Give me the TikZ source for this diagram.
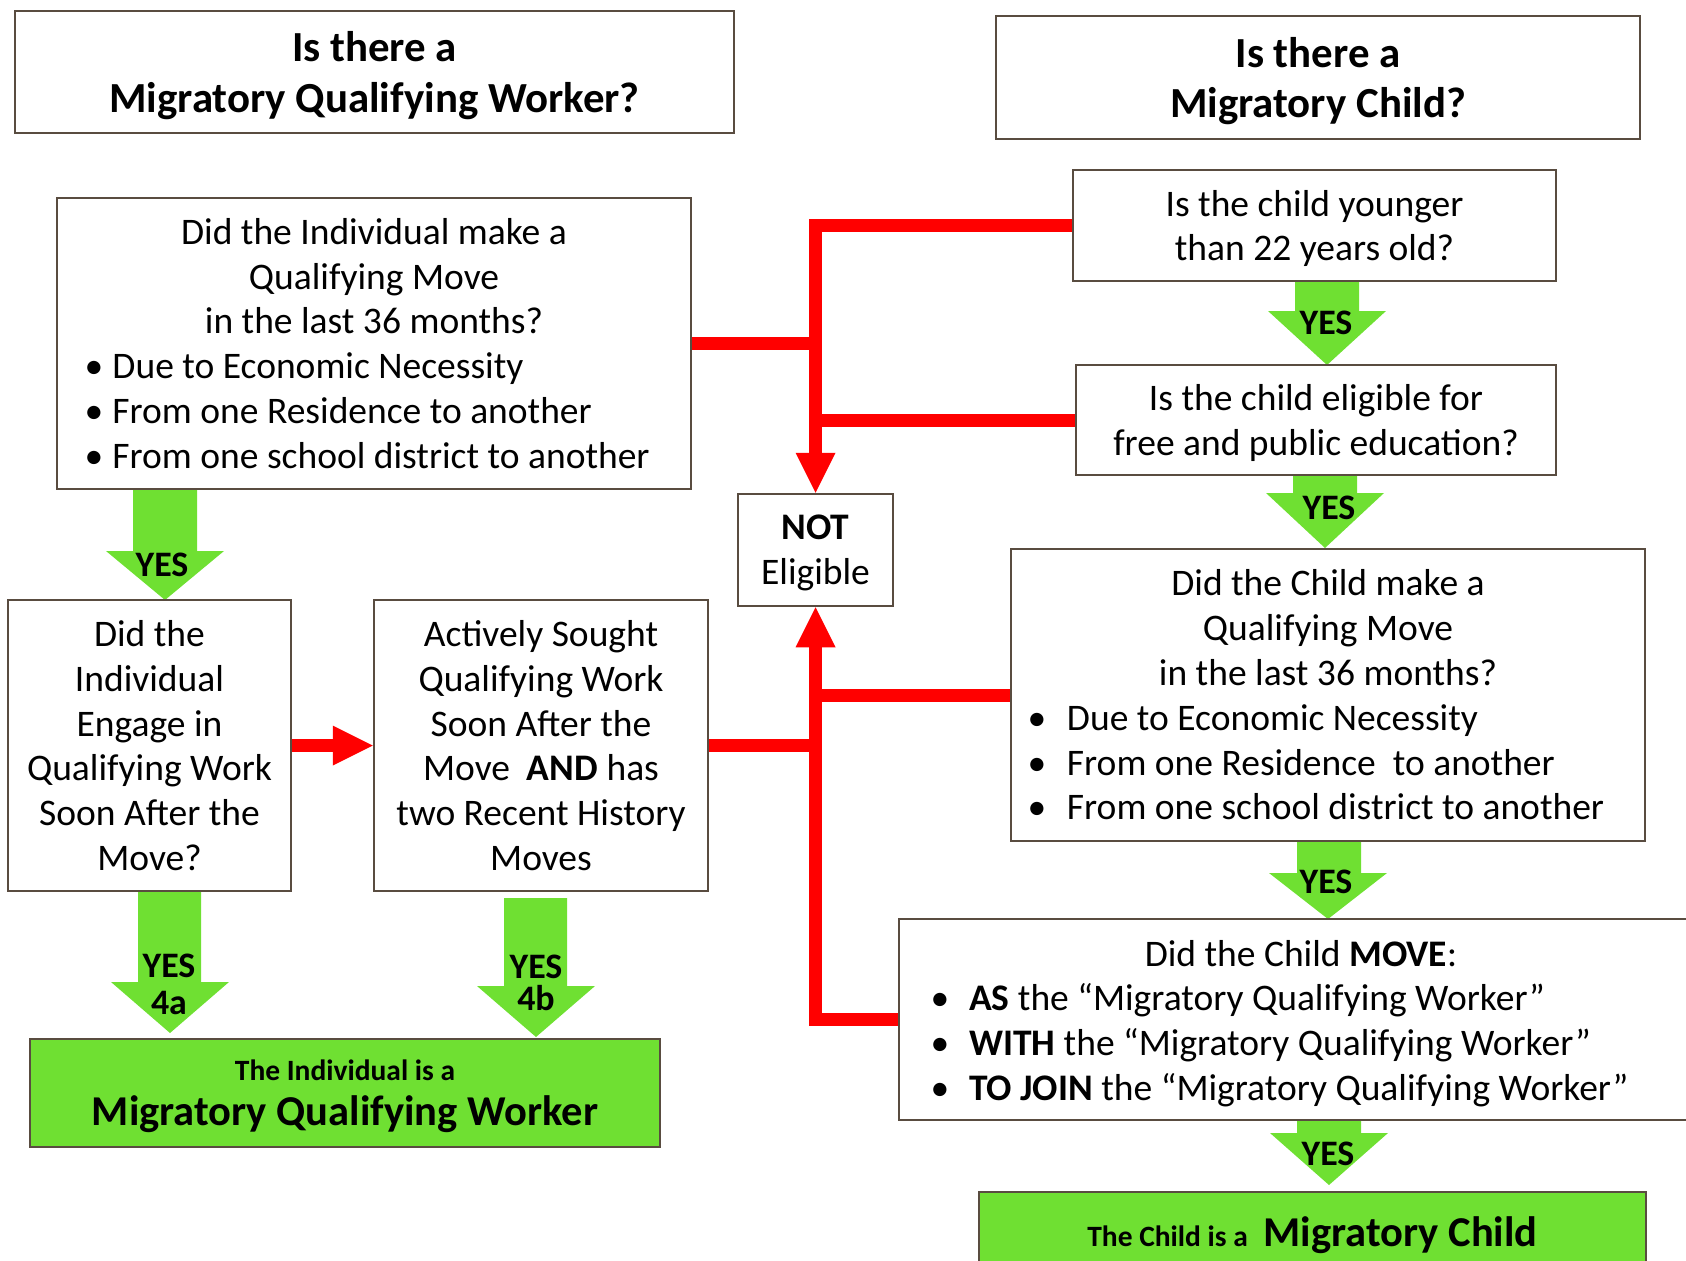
\documentclass[tikz,border=0pt]{standalone}
\usepackage{fontspec}
\setmainfont{Carlito}
\usetikzlibrary{arrows.meta}

\definecolor{boxline}{RGB}{89,76,64}
\definecolor{yesgreen}{RGB}{111,224,50}

\tikzset{
	box/.style={draw=boxline, line width=0.05cm, inner sep=0pt, align=center, text depth=0pt,
		font=\fontsize{21.35}{25.51}\selectfont},
	titlebox/.style={box, font=\fontsize{24.4}{28.63}\selectfont\bfseries},
	listbox/.style={box, align=left, text depth=},
	resultbox/.style={box, fill=yesgreen},
	nored/.style={draw=red, line width=0.26cm},
	notip/.style={-{Triangle[width=0.8cm,length=0.8cm,line width=0pt]}},
	yeslabel/.style={inner sep=0pt, align=center, font=\fontsize{20.41}{20.98}\selectfont\bfseries},
}

\begin{document}
\begin{tikzpicture}
	\useasboundingbox (0,0) rectangle (33.72,-25.2);

	% green YES arrows
	\fill[yesgreen] (2.66,-9.78) -- (3.94,-9.78) -- (3.94,-11.02) -- (4.48,-11.02) -- (3.30,-12.00) -- (2.12,-11.02) -- (2.66,-11.02) -- cycle;
	\fill[yesgreen] (25.90,-5.62) -- (27.18,-5.62) -- (27.18,-6.22) -- (27.72,-6.22) -- (26.54,-7.30) -- (25.36,-6.22) -- (25.90,-6.22) -- cycle;
	\fill[yesgreen] (25.86,-9.50) -- (27.14,-9.50) -- (27.14,-9.86) -- (27.68,-9.86) -- (26.50,-10.96) -- (25.32,-9.86) -- (25.86,-9.86) -- cycle;
	\fill[yesgreen] (25.94,-16.82) -- (27.22,-16.82) -- (27.22,-17.46) -- (27.74,-17.46) -- (26.56,-18.38) -- (25.38,-17.46) -- (25.94,-17.46) -- cycle;
	\fill[yesgreen] (25.94,-22.40) -- (27.22,-22.40) -- (27.22,-22.66) -- (27.76,-22.66) -- (26.58,-23.70) -- (25.40,-22.66) -- (25.94,-22.66) -- cycle;
	\fill[yesgreen] (2.76,-17.82) -- (4.02,-17.82) -- (4.02,-19.64) -- (4.58,-19.64) -- (3.40,-20.66) -- (2.22,-19.64) -- (2.76,-19.64) -- cycle;
	\fill[yesgreen] (10.08,-17.96) -- (11.34,-17.96) -- (11.34,-19.72) -- (11.90,-19.72) -- (10.72,-20.74) -- (9.54,-19.72) -- (10.08,-19.72) -- cycle;

	% titles
	\node[titlebox, minimum width=14.38cm, minimum height=2.44cm] (qworker) at (7.49,-1.44) {Is there a\\Migratory Qualifying Worker?};
	\node[titlebox, minimum width=12.88cm, minimum height=2.46cm] (qchild) at (26.36,-1.55) {Is there a\\Migratory Child?};

	% worker side
	\node[listbox, text width=12.68cm, minimum height=5.82cm] (indmove) at (7.48,-6.87) {%
		\spaceskip=0pt \xspaceskip=0pt
		{\centering Did the Individual make a\\Qualifying Move\\in the last 36 months?\par}
		\hspace*{0.74cm}\makebox[0pt]{\textbullet}\hspace*{0.37cm}Due to Economic Necessity\\
		\hspace*{0.74cm}\makebox[0pt]{\textbullet}\hspace*{0.37cm}From one Residence to another\\
		\hspace*{0.74cm}\makebox[0pt]{\textbullet}\hspace*{0.37cm}From one school district to another};
	\node[box, minimum width=5.66cm, minimum height=5.82cm] (engage) at (2.99,-14.91) {Did the\\Individual\\Engage in\\Qualifying Work\\Soon After the\\Move?};
	\node[box, minimum width=6.68cm, minimum height=5.82cm] (sought) at (10.82,-14.91) {Actively Sought\\Qualifying Work\\Soon After the\\Move\ \ \textbf{AND} has\\two Recent History\\Moves};
	\node[resultbox, minimum width=12.60cm, minimum height=2.16cm, font=\fontsize{24.2}{25.51}\selectfont\bfseries] (workeryes) at (6.90,-21.86) {{\fontsize{16.77}{18}\selectfont The Individual is a}\\Migratory Qualifying Worker};

	% not eligible
	\node[box, minimum width=3.10cm, minimum height=2.24cm] (notelig) at (16.31,-11.00) {\textbf{NOT}\\Eligible};

	% child side
	\node[box, minimum width=9.66cm, minimum height=2.22cm] (younger) at (26.29,-4.51) {Is the child younger\\than 22 years old?};
	\node[box, minimum width=9.60cm, minimum height=2.20cm] (eligible) at (26.32,-8.40) {Is the child eligible for\\free and public education?};
	\node[listbox, text width=12.68cm, minimum height=5.84cm] (childmove) at (26.56,-13.90) {%
		\spaceskip=0pt \xspaceskip=0pt
		{\centering Did the Child make a\\Qualifying Move\\in the last 36 months?\par}
		\hspace*{0.52cm}\makebox[0pt]{\textbullet}\hspace*{0.60cm}Due to Economic Necessity\\
		\hspace*{0.52cm}\makebox[0pt]{\textbullet}\hspace*{0.60cm}From one Residence\ \ to another\\
		\hspace*{0.52cm}\makebox[0pt]{\textbullet}\hspace*{0.60cm}From one school district to another};
	\node[listbox, text width=16.08cm, minimum height=4.02cm, text height=19.3pt] (movewith) at (26.02,-20.39) {%
		\spaceskip=0pt \xspaceskip=0pt
		{\centering Did the Child \textbf{MOVE}:\par}
		\hspace*{0.82cm}\makebox[0pt]{\textbullet}\hspace*{0.58cm}\textbf{AS} the “Migratory Qualifying Worker”\\
		\hspace*{0.82cm}\makebox[0pt]{\textbullet}\hspace*{0.58cm}\textbf{WITH} the “Migratory Qualifying Worker”\\
		\hspace*{0.82cm}\makebox[0pt]{\textbullet}\hspace*{0.58cm}\textbf{TO JOIN} the “Migratory Qualifying Worker”};
	\node[resultbox, minimum width=13.34cm, minimum height=1.60cm, font=\fontsize{24.2}{25.51}\selectfont\bfseries] (childyes) at (26.25,-24.64) {{\fontsize{16.77}{18}\selectfont The Child is a}\hspace{0.32cm}Migratory Child};

	% YES labels
	\node[yeslabel] (yesmove) at (3.24,-11.30) {YES};
	\node[yeslabel] (yesage) at (26.52,-6.46) {YES};
	\node[yeslabel] (yesschool) at (26.58,-10.15) {YES};
	\node[yeslabel] (yeschild) at (26.52,-17.64) {YES};
	\node[yeslabel] (yeswith) at (26.56,-23.08) {YES};
	\node[yeslabel] (yesfoura) at (3.38,-19.69) {YES\\4a};
	\node[yeslabel, font=\fontsize{20.41}{18}\selectfont\bfseries] (yesfourb) at (10.72,-19.66) {YES\\4b};

	% NOT eligible paths
	\draw[nored, notip] (younger.west) -| (notelig.north);
	\draw[nored] (indmove.east) -- (indmove.east -| notelig.north);
	\draw[nored] (eligible.west) -- (eligible.west -| notelig.north);
	\draw[nored, notip] (movewith.west) -| (notelig.south);
	\draw[nored] (childmove.west) -- (childmove.west -| notelig.south);
	\draw[nored] (sought.east) -- (sought.east -| notelig.south);
	\draw[nored, notip] (engage.east) -- (sought.west);
\end{tikzpicture}
\end{document}
